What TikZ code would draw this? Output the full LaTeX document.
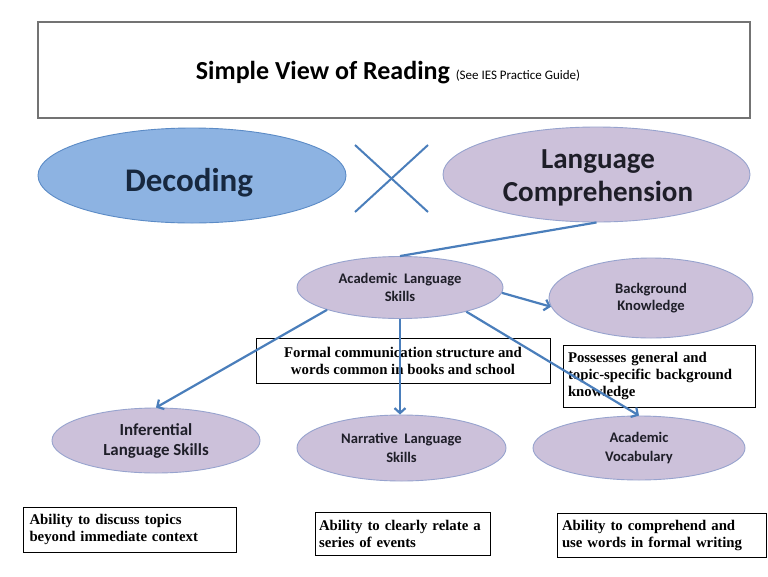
\documentclass[tikz,border=0pt]{standalone}
\usepackage{fontspec}
\setmainfont{Carlito}
\newfontfamily\tms{Liberation Serif}
\usetikzlibrary{shapes.geometric,arrows.meta}
\definecolor{lav}{HTML}{CCC1DA}
\definecolor{lavline}{HTML}{97A3CE}
\definecolor{decfill}{HTML}{8DB3E2}
\definecolor{decline}{HTML}{5B8BC6}
\definecolor{conn}{HTML}{4A7EBB}
\definecolor{txt}{HTML}{1E1E28}
\definecolor{dectxt}{HTML}{17283F}
\begin{document}
\begin{tikzpicture}[x=1pt,y=-1pt,
  oval/.style={ellipse, draw=lavline, fill=lav, line width=0.9pt, inner sep=0pt, align=center, text=txt},
  note/.style={draw=black, line width=0.8pt, fill=white, inner xsep=8pt, inner ysep=0pt, align=left,
     font=\tms\bfseries\fontsize{14.8}{17}\selectfont},
  connline/.style={draw=conn, line width=2.2pt},
  arr/.style={connline, -{Straight Barb[length=5pt,width=11pt]}}]
\fill[white] (0,0) rectangle (768,576);
\useasboundingbox (0,0) rectangle (768,576);

% title
\node[draw=black!55, line width=1.2pt, minimum width=712pt, minimum height=96pt, inner sep=0pt] (titlebox) at (394,70) {};
\node[inner sep=0pt, anchor=base] (title) at (388,79.5) {\bfseries\fontsize{26}{30}\selectfont Simple View of Reading {\mdseries\fontsize{13}{15}\selectfont (See IES Practice Guide)}};

% top ellipses
\node[ellipse, draw=decline, fill=decfill, line width=0.9pt, minimum width=308pt, minimum height=95pt, inner sep=0pt] (dec) at (192,175.5) {};
\node[inner sep=0pt, anchor=base, text=dectxt, font=\bfseries\fontsize{33}{38}\selectfont] (dectext) at (189,191.7) {Decoding};
\node[oval, minimum width=307pt, minimum height=95pt] (lc) at (596.5,174.5) {};
\node[inner sep=0pt, anchor=base, text=txt, font=\bfseries\fontsize{29}{33.7}\selectfont, align=center] (lctext) at (598,201.7) {Language\\Comprehension};

% the X
\coordinate (xa) at (355,145);
\coordinate (xb) at (428,212);
\coordinate (xc) at (355,212);
\coordinate (xd) at (428,145);
\draw[conn, line width=2pt] (xa) -- (xb);
\draw[conn, line width=2pt] (xc) -- (xd);

% second level
\node[oval, minimum width=206pt, minimum height=62pt, font=\bfseries\fontsize{14.6}{17.5}\selectfont] (als) at (400,287.5) {Academic\ \ Language\\Skills};
\node[oval, minimum width=204pt, minimum height=80pt, font=\bfseries\fontsize{14.6}{17.4}\selectfont] (bk) at (651,298) {Background\\Knowledge};

% third level
\node[oval, minimum width=208pt, minimum height=65pt, font=\bfseries\fontsize{16.9}{20}\selectfont] (inf) at (156,440.5) {Inferential\\Language Skills};
\node[oval, minimum width=209pt, minimum height=66pt, font=\bfseries\fontsize{14.6}{18.7}\selectfont] (nar) at (401.5,448) {Narrative\ \ Language\\Skills};
\node[oval, minimum width=212pt, minimum height=64pt, font=\bfseries\fontsize{14.6}{18.7}\selectfont] (av) at (639,448) {Academic\\Vocabulary};

% notes
\node[note, align=center, minimum width=294pt, minimum height=45pt] (formal) at (403,360.5) {Formal communication structure and\\words common in books and school};
\node[note, minimum width=192pt, minimum height=62pt, text width=182pt, inner xsep=5pt] (poss) at (659,376) {Possesses general and\\topic-specific background\\knowledge};
\node[note, minimum width=213pt, minimum height=45pt, text width=200pt, inner xsep=6.5pt] (n1) at (129.5,529.5) {Ability to discuss topics\\beyond immediate context};
\node[note, minimum width=175pt, minimum height=43pt, text width=167pt, inner xsep=4pt] (n2) at (402.5,533.5) {Ability to clearly relate a\\series of events};
\node[note, minimum width=209pt, minimum height=44pt, text width=199pt, inner xsep=5pt] (n3) at (661.5,535) {Ability to comprehend and\\use words in formal writing};

% connectors
\draw[connline] (lc.south) -- (als.north);
\draw[arr] (als.-3) -- (bk.185);
\draw[arr] (als.197) -- (inf.north);
\draw[arr] (als.south) -- (als.south |- nar.north);
\draw[arr] (als.340) -- (av.north);
\end{tikzpicture}
\end{document}
